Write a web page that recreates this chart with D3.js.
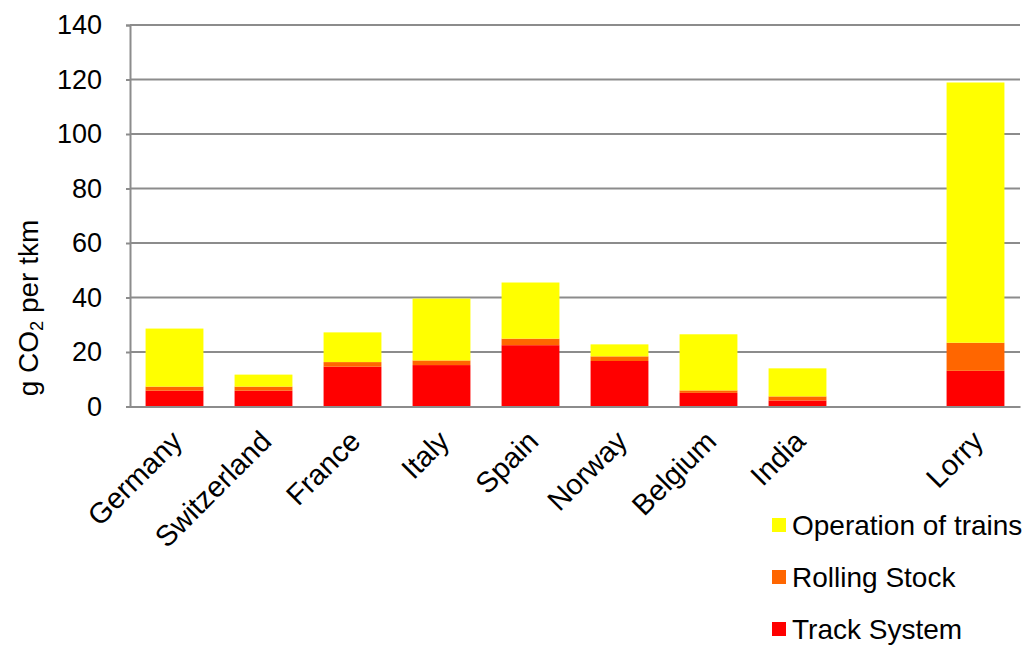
<!DOCTYPE html>
<html>
<head>
<meta charset="utf-8">
<script src="https://cdn.jsdelivr.net/npm/d3@7"></script>
<style>
  html, body { margin: 0; padding: 0; background: #fff; }
  svg { display: block; font-family: "Liberation Sans", Arial, sans-serif; }
</style>
</head>
<body>
<svg id="chart" width="1022" height="645"></svg>
<script>
// Emissions per tonne-km, split by life-cycle component
const categories = ["Germany", "Switzerland", "France", "Italy", "Spain", "Norway", "Belgium", "India", "", "Lorry"];
const trackSystem = [5.8, 5.8, 14.6, 15.2, 22.5, 16.7, 5.0, 2.2, 0, 13.1];
const rollingStock = [1.5, 1.5, 1.7, 1.7, 2.4, 1.7, 0.9, 1.5, 0, 10.3];
const operationOfTrains = [21.3, 4.4, 10.9, 22.7, 20.6, 4.4, 20.6, 10.3, 0, 95.5];
const yTicks = [0, 20, 40, 60, 80, 100, 120, 140];

const seriesNames = ["Track System", "Rolling Stock", "Operation of trains"];
const seriesColors = ["#FF0000", "#FF6600", "#FFFF00"];

const rows = categories.map((c, i) => ({
  cat: c,
  "Track System": trackSystem[i],
  "Rolling Stock": rollingStock[i],
  "Operation of trains": operationOfTrains[i]
}));

const svg = d3.select("#chart");
const plotLeft = 130, plotRight = 1020, plotTop = 25, plotBottom = 406.5;
const gridColor = "#8c8c8c";
const tickFont = 27;
const labelFont = 28;
const categoryFont = 29;

const x = d3.scaleBand().domain(categories).range([plotLeft, plotRight]).paddingInner(0.35).paddingOuter(0.175);
const y = d3.scaleLinear().domain([0, 140]).range([plotBottom, plotTop]);
const color = d3.scaleOrdinal().domain(seriesNames).range(seriesColors);

// horizontal gridlines
svg.append("g")
  .selectAll("line")
  .data(yTicks.filter(t => t > 0))
  .join("line")
  .attr("x1", plotLeft).attr("x2", plotRight)
  .attr("y1", d => y(d)).attr("y2", d => y(d))
  .attr("stroke", gridColor).attr("stroke-width", 2);

// stacked bars
const stack = d3.stack().keys(seriesNames)(rows);
svg.append("g")
  .selectAll("g")
  .data(stack)
  .join("g")
  .attr("fill", d => color(d.key))
  .selectAll("rect")
  .data(d => d)
  .join("rect")
  .attr("x", d => x(d.data.cat))
  .attr("width", x.bandwidth())
  .attr("y", d => y(d[1]))
  .attr("height", d => y(d[0]) - y(d[1]));

// y axis
const yAxis = svg.append("g")
  .attr("transform", `translate(${plotLeft},0)`)
  .call(d3.axisLeft(y).tickValues(yTicks).tickSize(4).tickPadding(24));
yAxis.select(".domain").attr("stroke", gridColor).attr("stroke-width", 2);
yAxis.selectAll(".tick line").attr("stroke", gridColor).attr("stroke-width", 2);
yAxis.selectAll(".tick text")
  .attr("font-size", tickFont).attr("fill", "#000")
  .attr("font-family", "Liberation Sans, Arial, sans-serif");

// x axis
const xAxis = svg.append("g")
  .attr("transform", `translate(0,${plotBottom})`)
  .call(d3.axisBottom(x).tickSize(0).tickPadding(0));
xAxis.select(".domain").attr("stroke", gridColor).attr("stroke-width", 2);
xAxis.selectAll(".tick text")
  .attr("font-size", categoryFont).attr("fill", "#000")
  .attr("font-family", "Liberation Sans, Arial, sans-serif")
  .attr("text-anchor", "end")
  .attr("dy", "0.71em")
  .attr("transform", "translate(-5,22) rotate(-45)");

// y axis title
const title = svg.append("text")
  .attr("transform", "translate(38,308) rotate(-90)")
  .attr("text-anchor", "middle")
  .attr("font-size", labelFont)
  .attr("fill", "#000");
title.append("tspan").text("g CO");
title.append("tspan").attr("font-size", labelFont * 0.65).attr("dy", "0.25em").text("2");
title.append("tspan").attr("dy", "-0.17em").text(" per tkm");

// legend
const legendNames = ["Operation of trains", "Rolling Stock", "Track System"];
const legend = svg.append("g")
  .selectAll("g")
  .data(legendNames)
  .join("g")
  .attr("transform", (d, i) => `translate(772,${525 + i * 52})`);
legend.append("rect")
  .attr("x", 0).attr("y", -7).attr("width", 14).attr("height", 14)
  .attr("fill", d => color(d));
legend.append("text")
  .attr("x", 20).attr("y", 0).attr("dy", "0.35em")
  .attr("font-size", labelFont).attr("fill", "#000")
  .text(d => d);
</script>
</body>
</html>
